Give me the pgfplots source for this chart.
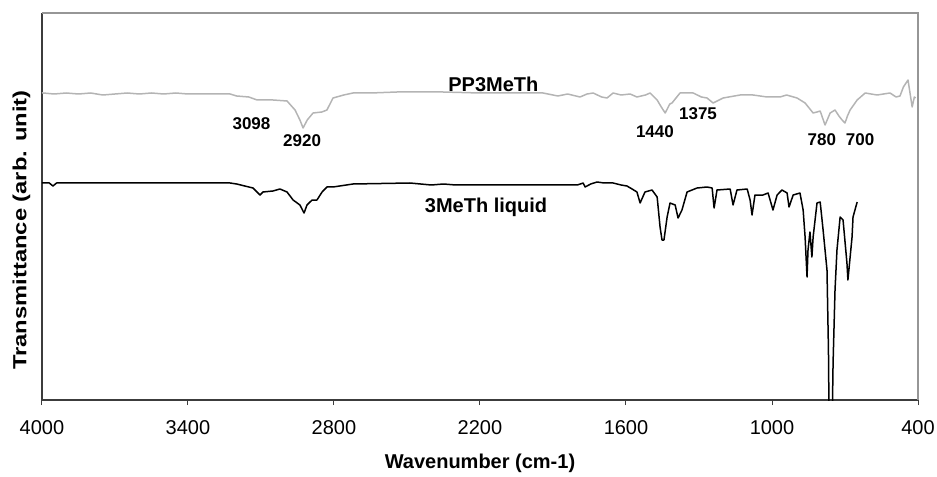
\documentclass[border=0pt]{standalone}
\usepackage{pgfplots}
\pgfplotsset{compat=1.18}
\usepackage{fontspec}
\setmainfont{Liberation Sans}
\usepackage{graphicx}
\definecolor{ppgray}{RGB}{180,180,180}
\definecolor{framegray}{RGB}{150,150,150}
\definecolor{axdark}{RGB}{60,60,60}
\begin{document}
\begin{tikzpicture}
\begin{axis}[
  scale only axis, width=876bp, height=387bp,
  x dir=reverse, xmin=400, xmax=4000, ymin=0, ymax=387,
  axis x line*=bottom, axis y line*=left,
  axis line style={-, draw=axdark, line width=1.4bp},
  xtick={400,1000,...,4000}, ytick=\empty,
  tick align=outside, major tick length=5bp,
  every tick/.style={axdark, line width=1bp},
  /pgf/number format/assume math mode=true,
  /pgf/number format/1000 sep={},
  scaled x ticks=false,
  xticklabel style={font=\fontsize{20bp}{24bp}\selectfont, yshift=-12bp},
  xlabel={Wavenumber (cm-1)},
  xlabel style={font=\bfseries\fontsize{20bp}{24bp}\selectfont, at={(axis description cs:0.5,-0.1757)}, anchor=base},
  ylabel={\scalebox{1.25}[1]{Transmittance (arb. unit)}},
  ylabel style={font=\bfseries\fontsize{19bp}{23bp}\selectfont, at={(axis description cs:-0.0234,0.439)}, anchor=center, rotate=0},
]
\addplot[ppgray, line width=1.5bp, line join=round] coordinates {
(4000,307) (3996,307) (3950,306) (3900,307) (3850,306) (3800,307) (3750,305) (3700,306) (3650,307) (3600,306)
(3550,307) (3500,306) (3450,307) (3400,306) (3350,306) (3300,306) (3227,306) (3200,304) (3150,303) (3116,300)
(3050,300) (2993,299) (2960,290) (2940,280) (2927,272) (2910,280) (2886,287) (2850,288) (2829,290) (2804,302)
(2760,305) (2722,307) (2650,307) (2541,308) (2450,308) (2352,308) (2200,307) (2145,307) (2050,307) (1941,307)
(1880,304) (1840,306) (1789,303) (1760,306) (1735,307) (1700,303) (1678,302) (1653,307) (1620,305) (1583,306)
(1555,303) (1520,305) (1501,307) (1472,300) (1455,293) (1439,287) (1420,296) (1411,297) (1378,307) (1324,307)
(1290,303) (1267,302) (1242,297) (1201,302) (1131,305) (1078,305) (1020,303) (967,303) (940,305) (897,302)
(864,297) (831,287) (815,288) (802,289) (782,275) (761,287) (741,290) (725,284) (712,280) (700,277)
(690,284) (679,290) (650,300) (617,307) (568,305) (515,307) (490,303) (474,304) (460,313) (441,320)
(424,293) (415,303) (410,302)
};
\addplot[black, line width=1.5bp, line join=round] coordinates {
(4000,217) (3970,217) (3955,214) (3940,217) (3227,217) (3200,216) (3133,212) (3104,205) (3092,208) (3051,209)
(3022,211) (2993,208) (2968,200) (2940,195) (2923,187) (2911,195) (2890,200) (2870,200) (2849,208) (2829,213)
(2804,213) (2722,216) (2488,217) (2400,215) (2350,216) (2300,215) (2200,215) (2000,215) (1850,215) (1800,215)
(1776,217) (1768,213) (1745,216) (1719,218) (1690,217) (1653,217) (1620,215) (1596,214) (1575,211) (1555,208)
(1542,197) (1522,208) (1493,210) (1472,203) (1460,173) (1452,160) (1444,160) (1431,183) (1419,197) (1398,195)
(1386,182) (1370,190) (1349,208) (1308,212) (1267,213) (1246,212) (1238,192) (1226,210) (1172,211) (1160,195)
(1144,210) (1102,211) (1090,200) (1082,185) (1070,205) (1037,205) (1016,207) (996,190) (979,205) (959,210)
(938,207) (930,193) (913,205) (885,207) (872,190) (864,163) (856,123) (852,150) (844,168) (836,143)
(831,163) (815,197) (802,198) (790,170) (774,130) (768,50) (765,-30) (753,-30) (749,37) (741,110)
(733,150) (720,183) (708,180) (692,137) (688,120) (671,163) (667,183) (650,198)
};
\node[font=\bfseries\fontsize{20bp}{24bp}\selectfont] at (axis cs:2145,315.5) {PP3MeTh};
\node[font=\bfseries\fontsize{20bp}{24bp}\selectfont] at (axis cs:2175,193) {3MeTh liquid};
\node[font=\bfseries\fontsize{17bp}{20bp}\selectfont] at (axis cs:3139,276.5) {3098};
\node[font=\bfseries\fontsize{17bp}{20bp}\selectfont] at (axis cs:2931,259) {2920};
\node[font=\bfseries\fontsize{17bp}{20bp}\selectfont] at (axis cs:1481,268) {1440};
\node[font=\bfseries\fontsize{17bp}{20bp}\selectfont] at (axis cs:1304,286) {1375};
\node[font=\bfseries\fontsize{17bp}{20bp}\selectfont] at (axis cs:795,260) {780};
\node[font=\bfseries\fontsize{17bp}{20bp}\selectfont] at (axis cs:638,260) {700};
\coordinate (bl) at (axis description cs:0,0);
\coordinate (tl) at (axis description cs:0,1);
\coordinate (tr) at (axis description cs:1,1);
\coordinate (br) at (axis description cs:1,0);
\end{axis}
\draw[framegray, line width=1.2bp] (tl) -- (tr) -- (br);
\pgfresetboundingbox
\path ([xshift=-42bp,yshift=-76bp]bl) rectangle ([xshift=19bp,yshift=13bp]tr);
\end{tikzpicture}
\end{document}
